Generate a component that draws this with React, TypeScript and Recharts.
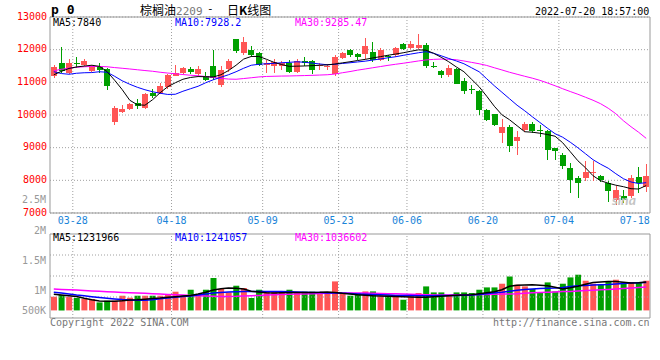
import {
  ComposedChart, Bar, Line, XAxis, YAxis, CartesianGrid, ReferenceLine, ReferenceArea, Cell,
} from 'recharts';

const MONO = '"DejaVu Sans Mono", "Liberation Mono", monospace';
const CJK = '"Noto Sans CJK SC", "Noto Sans", sans-serif';
const RED = '#ff5555';
const GREEN = '#00a000';
const GRID = '#a0a0a0';
const FRAME = '#999999';

// daily candles, 03-23 .. 07-19
const OPEN = [
  11180, 11600, 11290, 11600, 11540, 11360, 11480, 11400, 9800, 10090,
  10170, 10370, 10210, 10670, 10670, 10860, 11200, 11300, 11420, 11250,
  11180, 11490, 10930, 11400, 12320, 11900, 12000, 11900, 11540, 11490,
  11500, 11590, 11330, 11640, 11640, 11490, 11480, 11260, 11740, 12000,
  11880, 11880, 11920, 11690, 11800, 11840, 12180, 12050, 12050, 12150,
  11510, 11360, 11230, 11410, 11030, 10790, 10720, 10140, 10020, 9450,
  9630, 9190, 9550, 9730, 9550, 9500, 8990, 8780, 8380, 8070,
  8070, 8220, 8120, 7920, 7410, 7510, 7510, 8100, 7810,
];
const CLOSE = [
  11480, 11350, 11590, 11560, 11660, 11500, 11390, 10900, 10210, 10180,
  10340, 10280, 10640, 10590, 10900, 11230, 11290, 11440, 11330, 11400,
  11080, 11130, 11390, 11660, 11950, 12250, 11840, 11540, 11590, 11610,
  11600, 11330, 11640, 11590, 11390, 11540, 11500, 11770, 11900, 11840,
  11770, 12100, 11690, 11990, 11770, 12050, 12020, 12180, 12150, 11490,
  11490, 11230, 11440, 10960, 10750, 10770, 10160, 9860, 9700, 9630,
  9060, 9340, 9730, 9500, 9520, 8920, 8890, 8430, 8000, 7920,
  8270, 8270, 8020, 7660, 7710, 7410, 8070, 7920, 8120,
];
const HIGH = [
  11520, 12090, 11700, 11790, 11710, 11540, 11600, 11440, 10290, 10310,
  10370, 10500, 10670, 10800, 10980, 11260, 11540, 11480, 11480, 11500,
  11330, 12000, 11490, 11700, 12330, 12390, 12100, 11920, 11690, 11710,
  11660, 11690, 11700, 11790, 11690, 11590, 11560, 11840, 11930, 12020,
  11900, 12370, 12250, 12040, 11840, 12080, 12190, 12260, 12480, 12200,
  11620, 11390, 11540, 11440, 11130, 10930, 10780, 10170, 10030, 9880,
  9700, 9500, 9780, 9780, 9700, 9550, 8990, 8830, 8530, 8120,
  8580, 8580, 8170, 7990, 7815, 7700, 8170, 8400, 8500,
];
const LOW = [
  11130, 11300, 11260, 11440, 11490, 11330, 11290, 10770, 9680, 10050,
  10150, 10190, 10170, 10520, 10640, 10790, 11180, 11260, 11250, 11200,
  11030, 11080, 10860, 11330, 11890, 11840, 11790, 11490, 11280, 11290,
  11380, 11290, 11300, 11490, 11240, 11380, 11390, 11200, 11700, 11790,
  11670, 11720, 11630, 11650, 11640, 11790, 11990, 12020, 12020, 11440,
  11440, 11140, 11160, 10950, 10650, 10630, 10010, 9830, 9650, 9150,
  8855, 8790, 9470, 9440, 9320, 8610, 8610, 8350, 7625, 7450,
  7990, 7990, 7940, 7330, 7254, 7300, 7450, 7600, 7650,
];
const MA5 = [
  11232, 11336, 11425, 11471, 11498, 11523, 11489, 11333, 11067, 10779,
  10452, 10314, 10299, 10467, 10681, 10865, 10987, 11094, 11149, 11177,
  11171, 11165, 11232, 11360, 11523, 11712, 11792, 11792, 11706, 11611,
  11544, 11489, 11495, 11501, 11510, 11523, 11535, 11559, 11596, 11630,
  11667, 11703, 11746, 11786, 11829, 11865, 11905, 11951, 11994, 11985,
  11890, 11768, 11630, 11471, 11324, 11094, 10865, 10574, 10268, 10008,
  9855, 9671, 9488, 9473, 9442, 9402, 9350, 9151, 8876, 8600,
  8386, 8141, 7988, 7912, 7851, 7805, 7744, 7734, 7840,
];
const MA10 = [
  11324, 11269, 11247, 11278, 11293, 11299, 11324, 11309, 11186, 11048,
  10941, 10849, 10773, 10712, 10666, 10629, 10635, 10727, 10804, 10880,
  10987, 11079, 11156, 11232, 11324, 11431, 11523, 11553, 11569, 11581,
  11599, 11611, 11630, 11614, 11590, 11562, 11538, 11553, 11578, 11599,
  11624, 11648, 11682, 11715, 11752, 11783, 11826, 11865, 11905, 11939,
  11890, 11813, 11731, 11654, 11569, 11446, 11324, 11110, 10895, 10697,
  10498, 10299, 10130, 9947, 9772, 9595, 9427, 9320, 9167, 8998,
  8815, 8631, 8493, 8371, 8203, 8050, 7949, 7903, 7928,
];
const MA30 = [
  11354, 11400, 11437, 11462, 11477, 11486, 11486, 11477, 11452, 11431,
  11409, 11385, 11361, 11339, 11309, 11284, 11263, 11238, 11217, 11201,
  11177, 11146, 11122, 11100, 11094, 11116, 11140, 11165, 11180, 11186,
  11192, 11195, 11201, 11207, 11214, 11223, 11232, 11253, 11293, 11330,
  11373, 11409, 11446, 11483, 11520, 11553, 11584, 11618, 11654, 11685,
  11703, 11712, 11706, 11691, 11654, 11611, 11569, 11517, 11446, 11379,
  11309, 11247, 11186, 11128, 11061, 10981, 10895, 10804, 10718, 10635,
  10544, 10452, 10345, 10207, 10039, 9824, 9641, 9472, 9285,
];

// volume, thousands of lots
const VOLUME = [
  842, 885, 842, 810, 785, 785, 700, 742, 742, 867,
  817, 867, 867, 867, 867, 892, 967, 867, 1017, 867,
  1017, 1310, 1035, 950, 1117, 1060, 810, 1017, 975, 975,
  967, 1017, 950, 967, 967, 917, 917, 1225, 935, 867,
  935, 975, 975, 850, 867, 867, 767, 850, 935, 1100,
  950, 950, 867, 950, 950, 935, 1017, 1075, 1075, 1167,
  1350, 1142, 1100, 1035, 950, 1200, 975, 1167, 1325, 1392,
  1242, 1167, 1142, 1210, 1267, 1200, 1210, 1185, 1242,
];
const VMA5 = [
  905, 885, 867, 850, 805, 767, 737, 727, 730, 742,
  760, 767, 780, 797, 810, 830, 842, 857, 875, 910,
  955, 1010, 1042, 1057, 1052, 1035, 980, 960, 942, 935,
  940, 945, 950, 950, 950, 952, 960, 950, 927, 910,
  892, 880, 867, 860, 855, 850, 842, 835, 827, 830,
  842, 855, 867, 877, 885, 892, 917, 942, 967, 1017,
  1105, 1130, 1137, 1142, 1130, 1117, 1080, 1037, 1067, 1105,
  1152, 1197, 1210, 1220, 1222, 1205, 1185, 1192, 1210,
];
const VMA10 = [
  955, 935, 910, 885, 865, 842, 822, 802, 785, 770,
  760, 752, 752, 767, 792, 810, 830, 850, 862, 885,
  910, 935, 950, 962, 967, 970, 972, 975, 975, 972,
  970, 965, 960, 955, 950, 945, 937, 935, 927, 920,
  912, 905, 897, 890, 882, 875, 872, 870, 867, 867,
  867, 870, 872, 875, 880, 885, 897, 917, 942, 955,
  980, 1005, 1022, 1037, 1047, 1055, 1060, 1075, 1097, 1115,
  1125, 1135, 1140, 1147, 1160, 1172, 1185, 1192, 1200,
];
const VMA30 = [
  1032, 1025, 1017, 1007, 997, 987, 977, 967, 957, 947,
  940, 935, 927, 917, 907, 897, 890, 882, 875, 867,
  860, 855, 850, 850, 852, 860, 867, 875, 885, 892,
  897, 902, 907, 912, 917, 922, 930, 935, 935, 935,
  935, 932, 927, 922, 917, 915, 910, 905, 897, 890,
  885, 885, 887, 890, 892, 892, 895, 900, 905, 907,
  910, 917, 930, 940, 947, 955, 962, 970, 975, 985,
  995, 1005, 1015, 1025, 1035, 1047, 1060, 1072, 1085,
];

const TICK_IDX = [3, 16, 28, 38, 47, 57, 67, 77];
const TICK_LABELS = ['03-28', '04-18', '05-09', '05-23', '06-06', '06-20', '07-04', '07-18'];
const GRID_IDX = [3, 16, 28, 38, 47, 57, 67];
const PRICE_TICKS = [7000, 8000, 9000, 10000, 11000, 12000, 13000];
const VOL_TICKS = [500, 1000, 1500, 2000, 2500];
const VOL_TICK_LABELS = ['500K', '1M', '1.5M', '2M', '2.5M'];
const VOL_FLOOR = 500;
const VOL_DOMAIN = [310, 2410];
const VOL_QUARTERS = [835, 1360, 1885];

const candles = OPEN.map((o, i) => ({
  x: i + 0.5, open: o, close: CLOSE[i], high: HIGH[i], low: LOW[i],
  ma5: MA5[i], ma10: MA10[i], ma30: MA30[i],
}));
const volumes = VOLUME.map((v, i) => ({
  x: i + 0.5, vol: v, up: CLOSE[i] >= OPEN[i],
  ma5: VMA5[i], ma10: VMA10[i], ma30: VMA30[i],
}));

const Candle = (props: any) => {
  const { x, y, width, height, payload } = props;
  const top0 = Math.min(y, y + height);
  const h = Math.abs(height);
  const { open, close, high, low } = payload;
  const color = close >= open ? RED : GREEN;
  const k = h / (high - low || 1);
  const yOf = (v: number) => top0 + (high - v) * k;
  const bTop = yOf(Math.max(open, close));
  const bBot = yOf(Math.min(open, close));
  const cx = Math.floor(x + width / 2) + 0.5;
  return (
    <g shapeRendering="crispEdges">
      <line x1={cx} x2={cx} y1={top0} y2={top0 + h} stroke={color} strokeWidth={1} />
      <rect x={x} y={bTop} width={width} height={Math.max(1, bBot - bTop)} fill={color} />
    </g>
  );
};

// sina draws the upper volume labels further up than their values
const VOL_TICK_SHIFT = [0, 0, -10, -20, -31];
const VolTick = ({ x, y, index }: any) => (
  <text x={x} y={y + VOL_TICK_SHIFT[index]} dy="0.36em" textAnchor="end"
    fill="#999" fontSize={10} fontFamily={MONO}>
    {VOL_TICK_LABELS[index]}
  </text>
);

const txt = (extra: any) => ({
  position: 'absolute' as const, fontFamily: MONO, fontSize: 10, lineHeight: '12px',
  whiteSpace: 'pre' as const, ...extra,
});

export default function App() {
  return (
    <div style={{ position: 'absolute', left: 0, top: 0, width: 660, height: 360, background: '#fff' }}>
      <ComposedChart width={660} height={240} data={candles}
        margin={{ top: 17, right: 10, bottom: 0, left: 0 }}
        style={{ position: 'absolute', left: 0, top: 0 }}>
        <CartesianGrid vertical={false} stroke={GRID} strokeDasharray="1 2" />
        <XAxis dataKey="x" type="number" domain={[0, 79]} ticks={TICK_IDX} interval={0}
          height={27} axisLine={false} tickLine={false} tickSize={0} tickMargin={4}
          tickFormatter={(v: number) => TICK_LABELS[TICK_IDX.indexOf(v)]}
          tick={{ fill: '#1a84d8', fontSize: 10, fontFamily: MONO }} />
        <YAxis type="number" domain={[7000, 13000]} ticks={PRICE_TICKS} interval={0}
          width={50} axisLine={false} tickLine={false} tickSize={0} tickMargin={3}
          allowDataOverflow
          tick={{ fill: '#ff0000', fontSize: 10, fontFamily: MONO, dy: -1 }} />
        {GRID_IDX.map((g) => (
          <ReferenceLine key={g} x={g} stroke={GRID} strokeDasharray="1 2" />
        ))}
        <ReferenceArea x1={0} x2={79} y1={7000} y2={13000} fill="none" stroke={FRAME} strokeWidth={1} />
        <Bar dataKey={(d: any) => [d.low, d.high]} barSize={6} shape={Candle} isAnimationActive={false} />
        <Line dataKey="ma30" stroke="#ff00ff" strokeWidth={1} dot={false} isAnimationActive={false} />
        <Line dataKey="ma10" stroke="#0000ff" strokeWidth={1} dot={false} isAnimationActive={false} />
        <Line dataKey="ma5" stroke="#000000" strokeWidth={1} dot={false} isAnimationActive={false} />
      </ComposedChart>

      <ComposedChart width={660} height={150} data={volumes}
        margin={{ top: 44, right: 10, bottom: 22, left: 0 }}
        style={{ position: 'absolute', left: 0, top: 190 }}>
        <XAxis dataKey="x" type="number" domain={[0, 79]} hide />
        <YAxis type="number" domain={VOL_DOMAIN} ticks={VOL_TICKS} interval={0}
          width={50} axisLine={false} tickLine={false} tickSize={0} tickMargin={4}
          allowDataOverflow tick={<VolTick />} />
        {VOL_QUARTERS.map((q) => (
          <ReferenceLine key={q} y={q} stroke={GRID} strokeDasharray="1 2" />
        ))}
        {GRID_IDX.map((g) => (
          <ReferenceLine key={g} x={g} stroke={GRID} strokeDasharray="1 2" />
        ))}
        <ReferenceArea x1={0} x2={79} y1={VOL_DOMAIN[0]} y2={VOL_DOMAIN[1]} fill="none" stroke={FRAME} strokeWidth={1} />
        <Bar dataKey={(d: any) => [VOL_FLOOR, d.vol]} barSize={6} isAnimationActive={false}>
          {volumes.map((d, i) => (
            <Cell key={i} fill={d.up ? RED : GREEN} />
          ))}
        </Bar>
        <Line dataKey="ma30" stroke="#ff00ff" strokeWidth={1.5} dot={false} isAnimationActive={false} />
        <Line dataKey="ma10" stroke="#0000ff" strokeWidth={1.5} dot={false} isAnimationActive={false} />
        <Line dataKey="ma5" stroke="#000000" strokeWidth={1.5} dot={false} isAnimationActive={false} />
      </ComposedChart>

      <div style={txt({ left: 51, top: 3, fontSize: 13, fontWeight: 'bold', lineHeight: '14px' })}>p 0</div>
      <div style={txt({ left: 140, top: 2, fontFamily: CJK, fontSize: 12, lineHeight: '16px' })}>
        棕榈油<span style={{ fontFamily: MONO, color: '#777', fontSize: 11 }}>2209</span>
      </div>
      <div style={txt({ left: 207, top: 3, fontSize: 11 })}>-</div>
      <div style={txt({ left: 227, top: 2, fontFamily: CJK, fontSize: 12, lineHeight: '16px' })}>
        日<b>K</b>线图
      </div>
      <div style={txt({ left: 535, top: 6 })}>2022-07-20 18:57:00</div>

      <div style={txt({ left: 53, top: 17, color: '#000' })}>MA5:7840</div>
      <div style={txt({ left: 175, top: 17, color: '#0000ff' })}>MA10:7928.2</div>
      <div style={txt({ left: 295, top: 17, color: '#ff00ff' })}>MA30:9285.47</div>

      <div style={txt({ left: 53, top: 232, color: '#000' })}>MA5:1231966</div>
      <div style={txt({ left: 175, top: 232, color: '#0000ff' })}>MA10:1241057</div>
      <div style={txt({ left: 295, top: 232, color: '#ff00ff' })}>MA30:1036602</div>

      <div style={txt({ left: 612, top: 194, color: '#c4c4c4', fontFamily: 'Lato, sans-serif', fontSize: 14, fontStyle: 'italic', fontWeight: 'bold' })}>sina</div>

      <div style={txt({ left: 50, top: 317, color: '#777' })}>Copyright 2022 SINA.COM</div>
      <div style={txt({ left: 493, top: 317, color: '#777' })}>http://finance.sina.com.cn</div>
    </div>
  );
}
